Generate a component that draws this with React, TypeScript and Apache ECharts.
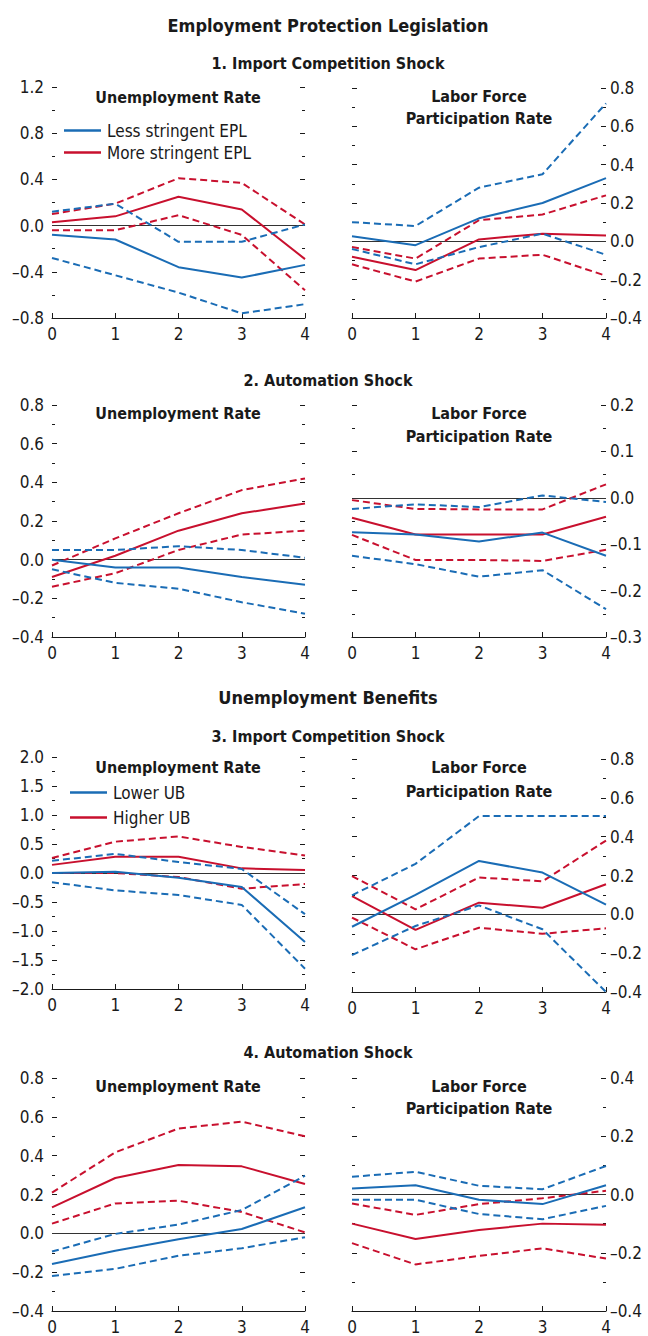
import React, { useEffect, useRef } from "react";
import * as echarts from "echarts";

const FONT = "'Liberation Sans Narrow', 'Arial Narrow', 'DejaVu Sans Condensed', sans-serif";
const BLUE = "#1a6cb5";
const RED = "#c8102e";
const INK = "#1a1a1a";

const horizons = ["0", "1", "2", "3", "4"];

// Panel 1: EPL, import competition shock — unemployment rate
const p1UnLessMid = [-0.08, -0.12, -0.36, -0.45, -0.34];
const p1UnLessHi = [0.12, 0.19, -0.14, -0.14, 0.01];
const p1UnLessLo = [-0.28, -0.43, -0.58, -0.76, -0.68];
const p1UnMoreMid = [0.03, 0.08, 0.25, 0.14, -0.29];
const p1UnMoreHi = [0.10, 0.19, 0.41, 0.37, 0.01];
const p1UnMoreLo = [-0.04, -0.04, 0.09, -0.08, -0.56];
// Panel 1: labor force participation rate
const p1LfLessMid = [0.026, -0.02, 0.12, 0.2, 0.33];
const p1LfLessHi = [0.1, 0.08, 0.28, 0.35, 0.72];
const p1LfLessLo = [-0.04, -0.12, -0.03, 0.04, -0.07];
const p1LfMoreMid = [-0.08, -0.15, 0.01, 0.04, 0.03];
const p1LfMoreHi = [-0.03, -0.09, 0.11, 0.14, 0.24];
const p1LfMoreLo = [-0.12, -0.21, -0.09, -0.07, -0.18];

// Panel 2: EPL, automation shock — unemployment rate
const p2UnLessMid = [0.0, -0.04, -0.04, -0.09, -0.13];
const p2UnLessHi = [0.05, 0.05, 0.07, 0.05, 0.01];
const p2UnLessLo = [-0.05, -0.12, -0.15, -0.22, -0.28];
const p2UnMoreMid = [-0.09, 0.02, 0.15, 0.24, 0.29];
const p2UnMoreHi = [-0.03, 0.11, 0.24, 0.36, 0.42];
const p2UnMoreLo = [-0.14, -0.07, 0.05, 0.13, 0.15];
// Panel 2: labor force participation rate
const p2LfLessMid = [-0.074, -0.079, -0.094, -0.075, -0.125];
const p2LfLessHi = [-0.024, -0.014, -0.02, 0.005, -0.009];
const p2LfLessLo = [-0.125, -0.143, -0.17, -0.156, -0.24];
const p2LfMoreMid = [-0.043, -0.079, -0.079, -0.079, -0.041];
const p2LfMoreHi = [-0.005, -0.024, -0.025, -0.025, 0.029];
const p2LfMoreLo = [-0.08, -0.134, -0.134, -0.136, -0.112];

// Panel 3: UB, import competition shock — unemployment rate
const p3UnLowMid = [0.0, 0.02, -0.08, -0.24, -1.19];
const p3UnLowHi = [0.21, 0.33, 0.19, 0.07, -0.71];
const p3UnLowLo = [-0.16, -0.3, -0.38, -0.55, -1.65];
const p3UnHighMid = [0.14, 0.28, 0.28, 0.08, 0.05];
const p3UnHighHi = [0.26, 0.54, 0.63, 0.45, 0.3];
const p3UnHighLo = [0.0, 0.0, -0.07, -0.27, -0.19];
// Panel 3: labor force participation rate
const p3LfLowMid = [-0.064, 0.1, 0.275, 0.215, 0.05];
const p3LfLowHi = [0.098, 0.26, 0.506, 0.506, 0.506];
const p3LfLowLo = [-0.21, -0.06, 0.046, -0.077, -0.4];
const p3LfHighMid = [0.094, -0.08, 0.06, 0.034, 0.155];
const p3LfHighHi = [0.197, 0.026, 0.19, 0.17, 0.38];
const p3LfHighLo = [-0.017, -0.18, -0.069, -0.1, -0.072];

// Panel 4: UB, automation shock — unemployment rate
const p4UnLowMid = [-0.158, -0.09, -0.03, 0.022, 0.134];
const p4UnLowHi = [-0.094, -0.003, 0.045, 0.12, 0.297];
const p4UnLowLo = [-0.22, -0.183, -0.115, -0.077, -0.02];
const p4UnHighMid = [0.134, 0.285, 0.352, 0.345, 0.254];
const p4UnHighHi = [0.21, 0.417, 0.54, 0.575, 0.5];
const p4UnHighLo = [0.05, 0.154, 0.168, 0.11, 0.005];
// Panel 4: labor force participation rate
const p4LfLowMid = [0.021, 0.032, -0.018, -0.033, 0.032];
const p4LfLowHi = [0.061, 0.078, 0.03, 0.018, 0.098];
const p4LfLowLo = [-0.018, -0.018, -0.067, -0.085, -0.039];
const p4LfHighMid = [-0.1, -0.153, -0.122, -0.1, -0.104];
const p4LfHighHi = [-0.031, -0.07, -0.033, -0.013, 0.013];
const p4LfHighLo = [-0.167, -0.24, -0.211, -0.185, -0.22];

// Axis ranges [min, max, interval]
const p1UnRange = [-0.8, 1.2, 0.4];
const p1LfRange = [-0.4, 0.8, 0.2];
const p2UnRange = [-0.4, 0.8, 0.2];
const p2LfRange = [-0.3, 0.2, 0.1];
const p3UnRange = [-2.0, 2.0, 0.5];
const p3LfRange = [-0.4, 0.8, 0.2];
const p4UnRange = [-0.4, 0.8, 0.2];
const p4LfRange = [-0.4, 0.4, 0.2];

const eplNames = ["Less stringent EPL", "More stringent EPL"];
const ubNames = ["Lower UB", "Higher UB"];

function fmt(v: number): string {
  const r = Math.abs(v) < 1e-9 ? 0 : v;
  return r.toFixed(1).replace("-", "\u2013");
}

type Panel = {
  grid: { left: number; top: number; width: number; height: number };
  range: number[];
  labelSide: "left" | "right";
  names: string[];
  blue: number[][];
  red: number[][];
};

const panels: Panel[] = [
  { grid: { left: 52, top: 87, width: 253, height: 231 }, range: p1UnRange, labelSide: "left", names: eplNames, blue: [p1UnLessMid, p1UnLessHi, p1UnLessLo], red: [p1UnMoreMid, p1UnMoreHi, p1UnMoreLo] },
  { grid: { left: 352, top: 88, width: 254, height: 230 }, range: p1LfRange, labelSide: "right", names: eplNames, blue: [p1LfLessMid, p1LfLessHi, p1LfLessLo], red: [p1LfMoreMid, p1LfMoreHi, p1LfMoreLo] },
  { grid: { left: 52, top: 405, width: 253, height: 232 }, range: p2UnRange, labelSide: "left", names: eplNames, blue: [p2UnLessMid, p2UnLessHi, p2UnLessLo], red: [p2UnMoreMid, p2UnMoreHi, p2UnMoreLo] },
  { grid: { left: 352, top: 405, width: 254, height: 232 }, range: p2LfRange, labelSide: "right", names: eplNames, blue: [p2LfLessMid, p2LfLessHi, p2LfLessLo], red: [p2LfMoreMid, p2LfMoreHi, p2LfMoreLo] },
  { grid: { left: 52, top: 757, width: 253, height: 232 }, range: p3UnRange, labelSide: "left", names: ubNames, blue: [p3UnLowMid, p3UnLowHi, p3UnLowLo], red: [p3UnHighMid, p3UnHighHi, p3UnHighLo] },
  { grid: { left: 352, top: 759, width: 254, height: 233 }, range: p3LfRange, labelSide: "right", names: ubNames, blue: [p3LfLowMid, p3LfLowHi, p3LfLowLo], red: [p3LfHighMid, p3LfHighHi, p3LfHighLo] },
  { grid: { left: 52, top: 1078, width: 253, height: 233 }, range: p4UnRange, labelSide: "left", names: ubNames, blue: [p4UnLowMid, p4UnLowHi, p4UnLowLo], red: [p4UnHighMid, p4UnHighHi, p4UnHighLo] },
  { grid: { left: 352, top: 1078, width: 254, height: 233 }, range: p4LfRange, labelSide: "right", names: ubNames, blue: [p4LfLowMid, p4LfLowHi, p4LfLowLo], red: [p4LfHighMid, p4LfHighHi, p4LfHighLo] },
];

function txt(text: string, x: number, y: number, size: number, bold = true) {
  return {
    type: "text",
    silent: true,
    style: {
      text,
      x,
      y,
      fill: INK,
      font: `${bold ? "bold " : ""}${size}px ${FONT}`,
      textAlign: "center",
      textVerticalAlign: "middle",
      align: "center",
      verticalAlign: "middle",
    },
  };
}

function buildOption() {
  const grid: any[] = [];
  const xAxis: any[] = [];
  const yAxis: any[] = [];
  const series: any[] = [];

  panels.forEach((p, i) => {
    grid.push({ ...p.grid, containLabel: false });
    xAxis.push({
      type: "category",
      gridIndex: i,
      data: horizons,
      boundaryGap: false,
      axisLine: { show: true, onZero: false, lineStyle: { color: INK, width: 1 } },
      axisTick: { show: true, inside: true, length: 5, lineStyle: { color: INK } },
      axisLabel: { fontFamily: FONT, fontSize: 17, color: INK, margin: 7 },
      splitLine: { show: false },
    });
    const [min, max, interval] = p.range;
    (["left", "right"] as const).forEach((side) => {
      yAxis.push({
        type: "value",
        gridIndex: i,
        position: side,
        min,
        max,
        interval,
        axisLine: { show: false },
        axisTick: { show: true, inside: true, length: 5, lineStyle: { color: INK } },
        minorTick: { show: true, splitNumber: 2, length: 3, lineStyle: { color: INK } },
        splitLine: { show: false },
        minorSplitLine: { show: false },
        axisLabel: {
          show: side === p.labelSide,
          formatter: fmt,
          fontFamily: FONT,
          fontSize: 17,
          color: INK,
          margin: side === "left" ? 8 : 4,
        },
      });
    });
    const yIdx = i * 2;
    const mk = (data: number[], color: string, dashed: boolean, name: string, z: number, zero = false) => {
      const s: any = {
        type: "line",
        name,
        xAxisIndex: i,
        yAxisIndex: yIdx,
        data,
        symbol: "none",
        showSymbol: false,
        silent: true,
        color,
        z,
        lineStyle: { color, width: 2, type: dashed ? [7, 4] : "solid" },
      };
      if (zero) {
        s.markLine = {
          silent: true,
          symbol: "none",
          label: { show: false },
          lineStyle: { color: "#333", width: 1, type: "solid" },
          data: [{ yAxis: 0 }],
          z: 1,
        };
      }
      return s;
    };
    series.push(mk(p.red[2], RED, true, p.names[1] + " lower", 2, true));
    series.push(mk(p.red[1], RED, true, p.names[1] + " upper", 2));
    series.push(mk(p.red[0], RED, false, p.names[1], 3));
    series.push(mk(p.blue[2], BLUE, true, p.names[0] + " lower", 4));
    series.push(mk(p.blue[1], BLUE, true, p.names[0] + " upper", 4));
    series.push(mk(p.blue[0], BLUE, false, p.names[0], 5));
  });

  const legendCommon = {
    orient: "vertical",
    icon: "rect",
    itemWidth: 37,
    itemHeight: 2.5,
    selectedMode: false,
    textStyle: { fontFamily: FONT, fontSize: 17, color: INK, padding: [0, 0, 0, 1] },
    padding: 0,
  };

  const graphic: any[] = [
    txt("Employment Protection Legislation", 328, 25, 18),
    txt("1. Import Competition Shock", 328, 63, 16),
    txt("2. Automation Shock", 328, 380, 16),
    txt("Unemployment Benefits", 328, 697, 18),
    txt("3. Import Competition Shock", 328, 736, 16),
    txt("4. Automation Shock", 328, 1052, 16),
    txt("Unemployment Rate", 178, 97, 16),
    txt("Labor Force", 479, 96, 16),
    txt("Participation Rate", 479, 118, 16),
    txt("Unemployment Rate", 178, 413, 16),
    txt("Labor Force", 479, 413, 16),
    txt("Participation Rate", 479, 436, 16),
    txt("Unemployment Rate", 178, 767, 16),
    txt("Labor Force", 479, 767, 16),
    txt("Participation Rate", 479, 791, 16),
    txt("Unemployment Rate", 178, 1086, 16),
    txt("Labor Force", 479, 1086, 16),
    txt("Participation Rate", 479, 1108, 16),
  ];

  return {
    animation: false,
    backgroundColor: "#ffffff",
    textStyle: { fontFamily: FONT },
    grid,
    xAxis,
    yAxis,
    series,
    legend: [
      { ...legendCommon, data: eplNames, left: 64, top: 122, itemGap: 5 },
      { ...legendCommon, data: ubNames, left: 70, top: 784, itemGap: 8 },
    ],
    graphic,
  };
}

export default function App() {
  const ref = useRef<HTMLDivElement>(null);
  useEffect(() => {
    document.body.style.margin = "0";
    if (!ref.current) return;
    const chart = echarts.init(ref.current, undefined, { renderer: "svg" });
    chart.setOption(buildOption() as any);
    return () => {
      chart.dispose();
    };
  }, []);
  return <div ref={ref} style={{ width: 648, height: 1336 }} />;
}
